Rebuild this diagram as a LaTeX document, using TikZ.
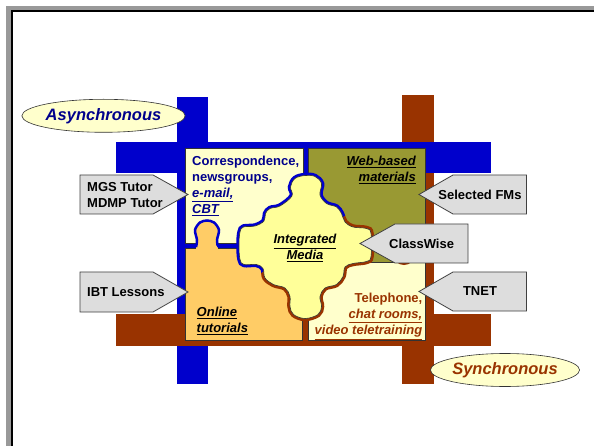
\documentclass[tikz,border=0pt]{standalone}
\usepackage{fontspec}
\setmainfont{Liberation Sans}
\usetikzlibrary{shapes.geometric,positioning}

\definecolor{barblue}{RGB}{0,0,204}
\definecolor{barbrown}{RGB}{153,51,0}
\definecolor{pieceolive}{RGB}{153,153,51}
\definecolor{paleyellow}{RGB}{255,255,204}
\definecolor{pieceorange}{RGB}{255,204,102}
\definecolor{mediayellow}{RGB}{255,255,153}
\definecolor{calloutgray}{RGB}{221,221,221}
\definecolor{textnavy}{RGB}{0,0,140}

\tikzset{
	piece/.style={draw=black!80,line width=0.8pt},
	callout/.style={fill=calloutgray,draw=black!75,line width=0.8pt},
	calltext/.style={font=\fontsize{13}{16}\selectfont\bfseries,align=left,inner sep=0pt},
	boxtext/.style={font=\fontsize{13}{16}\selectfont\bfseries,align=left,inner sep=0pt},
	timing/.style={ellipse,minimum width=129pt,minimum height=33pt,inner sep=0pt,
		fill=paleyellow,draw=black!80,line width=0.6pt,
		font=\fontsize{16.5}{18}\selectfont\bfseries\itshape}
}

\begin{document}
\begin{tikzpicture}[x=1pt,y=-1pt]
		\useasboundingbox (0,0) rectangle (594,446);
		\clip (0,0) rectangle (594,446);

		% frame
		\fill[black!40] (6,6) rectangle (620,470);
		\fill[white] (11,10) rectangle (620,470);
		\draw[line width=1.5pt] (11.8,470) -- (11.8,11) -- (620,11);

		% bars
		\fill[barblue] (177,97) rectangle (208,384);
		\fill[barbrown] (402,95) rectangle (434,384);
		\fill[barblue] (116,142) rectangle (491,173);
		\fill[barbrown] (116,314) rectangle (491,346);

		% gaps between the pieces
		\fill[barblue] (301,146) rectangle (310,182);
		\fill[barblue] (184,242) rectangle (246,250);
		\fill[barbrown] (300,312) rectangle (310,342);

		% pieces
		\filldraw[piece,fill=paleyellow] (185,148) rectangle (303,243.5);
		\filldraw[piece,fill=pieceolive] (308,148) rectangle (425.5,262);
		\filldraw[piece,fill=paleyellow] (308,262) rectangle (425.5,340);
		\filldraw[piece,fill=pieceorange] (185,248) rectangle (302,340);

		% knob of the online piece
		\fill[pieceorange] plot[smooth] coordinates {(196,249) (197,240) (195,230) (200,222.5) (207,220.5) (214,222.5) (219,230) (217,240) (218,249)};
		\draw[barblue,line width=2.5pt] plot[smooth] coordinates {(196,247) (197,240) (195,230) (200,222.5) (207,220.5) (214,222.5) (219,230) (217,240) (218,247)};
		\fill[pieceorange] (197.5,246) rectangle (216.5,250);

		% knob of the web piece
		\filldraw[draw=barbrown,line width=3pt,fill=pieceolive] (404,254) circle (9.5);

		% integrated media piece
		\path[save path=\mediapath] plot[smooth cycle,tension=0.6] coordinates {
			(292,196) (280,206) (270,208.5) (265.5,213.5) (264,221) (255,226) (243.5,227)
			(240,232) (239,245) (240,259.5) (244,264.5) (256.5,264.5) (263,268.5)
			(265,278) (273.5,284.5) (285,288) (290,296.5) (290,306.5) (293.5,314.5)
			(305,318.5) (318,314.5) (321.5,306.5) (320,296.5) (325,288) (336.5,284.5)
			(343,276.5) (345,267) (353,263.5) (366.5,261.5) (371,256.5) (371,233.5)
			(366.5,228.5) (353,227) (345,222) (341.5,213.5) (336.5,207) (326.5,203.5)
			(320,195) (321.5,183.5) (315,176.5) (305,175.5) (295,178.5) (290.5,187)};
		\begin{scope}
			\clip (200,315) -- (420,164.6) -- (420,140) -- (200,140) -- cycle;
			\draw[barblue,line width=5.5pt,use path=\mediapath];
		\end{scope}
		\begin{scope}
			\clip (200,315) -- (420,164.6) -- (420,345) -- (200,345) -- cycle;
			\draw[barbrown,line width=5.5pt,use path=\mediapath];
		\end{scope}
		\filldraw[fill=mediayellow,draw=black!80,line width=0.6pt,use path=\mediapath];

		% texts of the pieces
		\node[boxtext,text=textnavy,anchor=north west] (corr) at (192,156.2)
			{Correspondence,\\newsgroups,\\\textit{\underline{e-mail,}}\\\textit{\underline{CBT}}};
		\node[boxtext,align=right,anchor=north east] (web) at (416,156)
			{\textit{\underline{Web-based}}\\\textit{\underline{materials}}};
		\node[boxtext,align=center,anchor=north] (media) at (305,234)
			{\textit{\underline{Integrated}}\\\textit{\underline{Media}}};
		\node[boxtext,anchor=north west] (online) at (196.5,307.3)
			{\textit{\underline{Online}}\\\textit{\underline{tutorials}}};
		\node[boxtext,text=barbrown,align=right,anchor=north east] (phone) at (422.5,293.3)
			{Telephone,\\\textit{\underline{chat rooms,}}\\\textit{\underline{video teletraining}}};

		% callouts
		\draw[callout] (80,175) -- (153,175) -- (188,194.5) -- (153,214) -- (80,214) -- cycle;
		\draw[callout] (80,272) -- (153,272) -- (188,292) -- (153,312) -- (80,312) -- cycle;
		\draw[callout] (526.5,175) -- (453,175) -- (419,194.5) -- (453,214) -- (526.5,214) -- cycle;
		\draw[callout] (468,224) -- (395,224) -- (360,243.5) -- (395,263) -- (468,263) -- cycle;
		\draw[callout] (526.5,272) -- (453,272) -- (419,291.5) -- (453,311) -- (526.5,311) -- cycle;

		\node[calltext,anchor=west] (mgs) at (87,195) {MGS Tutor\\MDMP Tutor};
		\node[calltext,anchor=west] (ibt) at (87,292) {IBT Lessons};
		\node[calltext] (fms) at (480,194.5) {Selected FMs};
		\node[calltext] (classwise) at (421.6,243.5) {ClassWise};
		\node[calltext] (tnet) at (480,291.5) {TNET};

		% asynchronous and synchronous
		\node[timing,text=textnavy] (async) at (103.5,115.8) {Asynchronous};
		\node[timing,text=barbrown] (sync) at (505,370) {Synchronous};
	\end{tikzpicture}
\end{document}
